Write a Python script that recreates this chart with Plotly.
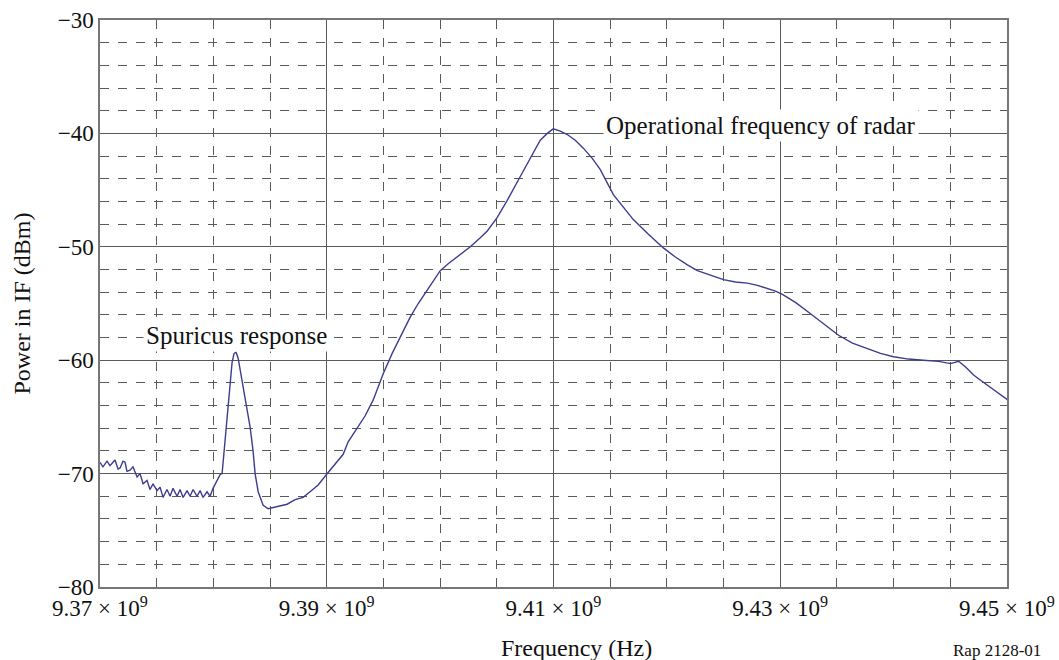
import plotly.graph_objects as go

freq_mhz = [
    9370.00, 9370.26, 9370.62, 9370.88, 9371.15, 9371.32, 9371.59, 9371.77, 9372.03, 9372.21,
    9372.38, 9372.65, 9372.91, 9373.27, 9373.53, 9373.80, 9374.15, 9374.41, 9374.68, 9375.03,
    9375.30, 9375.56, 9375.91, 9376.18, 9376.44, 9376.80, 9377.06, 9377.33, 9377.68, 9377.94,
    9378.21, 9378.56, 9378.83, 9379.09, 9379.44, 9379.71, 9379.97, 9380.33, 9380.59, 9380.77,
    9380.94, 9381.21, 9381.47, 9381.65, 9381.83, 9382.00, 9382.18, 9382.36, 9382.53, 9382.89,
    9383.24, 9383.50, 9383.68, 9383.95, 9384.39, 9384.83, 9385.27, 9385.89, 9386.50, 9387.21,
    9387.92, 9388.53, 9389.24, 9390.12, 9390.74, 9391.45, 9391.89, 9392.68, 9393.39, 9394.10,
    9394.98, 9395.77, 9396.65, 9397.36, 9398.07, 9398.86, 9400.01, 9400.71, 9401.51, 9402.66,
    9403.54, 9404.16, 9405.04, 9405.92, 9407.07, 9407.95, 9408.83, 9409.45, 9409.98, 9410.60,
    9411.22, 9411.92, 9412.63, 9413.42, 9414.13, 9415.28, 9416.16, 9417.04, 9418.37, 9419.69,
    9420.75, 9421.81, 9422.69, 9423.57, 9424.28, 9424.99, 9426.05, 9427.10, 9427.99, 9428.87,
    9429.58, 9430.19, 9431.34, 9432.67, 9433.99, 9435.14, 9436.37, 9437.70, 9438.84, 9439.99,
    9441.31, 9442.64, 9443.96, 9445.02, 9445.73, 9446.35, 9447.05, 9447.85, 9448.55, 9449.26,
    9450.05,
]
power_dbm = [
    -69.0, -69.4, -68.9, -69.3, -69.0, -68.8, -69.6, -69.5, -68.9, -69.0,
    -69.8, -69.7, -69.4, -70.3, -70.0, -70.9, -70.6, -71.4, -70.9, -71.5,
    -71.2, -72.1, -71.4, -72.0, -71.3, -72.0, -71.4, -72.1, -71.5, -72.0,
    -71.4, -72.0, -71.5, -72.1, -71.6, -72.0, -71.3, -70.6, -70.1, -70.0,
    -68.0, -65.3, -61.8, -60.2, -59.4, -59.3, -59.8, -60.8, -61.8, -64.0,
    -65.9, -68.0, -70.0, -71.6, -72.8, -73.1, -73.0, -72.8, -72.7, -72.3,
    -72.1, -71.6, -71.0, -69.9, -69.2, -68.3, -67.2, -66.0, -64.9, -63.5,
    -61.2, -59.4, -57.6, -56.2, -55.0, -53.8, -52.1, -51.5, -50.9, -50.0,
    -49.2, -48.6, -47.4, -45.9, -43.8, -42.2, -40.6, -40.0, -39.6, -39.8,
    -40.1, -40.6, -41.3, -42.2, -43.2, -45.4, -46.5, -47.6, -48.9, -50.1,
    -50.9, -51.6, -52.1, -52.4, -52.7, -52.9, -53.1, -53.2, -53.4, -53.7,
    -53.9, -54.2, -54.9, -55.9, -56.9, -57.8, -58.5, -59.0, -59.4, -59.7,
    -59.9, -60.0, -60.1, -60.3, -60.1, -60.6, -61.3, -61.9, -62.4, -62.9,
    -63.5,
]

x_tick_vals = [9.37e9, 9.39e9, 9.41e9, 9.43e9, 9.45e9]
x_tick_text = ["9.37 × 10<sup>9</sup>", "9.39 × 10<sup>9</sup>", "9.41 × 10<sup>9</sup>",
               "9.43 × 10<sup>9</sup>", "9.45 × 10<sup>9</sup>"]
y_tick_vals = [-80, -70, -60, -50, -40, -30]
y_tick_text = ["−80", "−70", "−60", "−50", "−40", "−30"]

freq_hz = [f * 1e6 for f in freq_mhz]

FONT = "Liberation Serif, Times New Roman, serif"
GRID = "#5a5a5a"

fig = go.Figure()
fig.add_trace(go.Scatter(x=freq_hz, y=power_dbm, mode="lines",
                         line=dict(color="#3d3d8f", width=1.4), showlegend=False))

fig.update_layout(
    width=1059, height=660,
    margin=dict(l=100, r=52, t=20, b=73),
    paper_bgcolor="white", plot_bgcolor="white",
    font=dict(family=FONT, size=23, color="#111"),
    xaxis=dict(
        range=[9.37e9, 9.45e9], tickmode="array", tickvals=x_tick_vals, ticktext=x_tick_text,
        showgrid=True, gridcolor=GRID, gridwidth=1.3,
        showline=True, linecolor="#777", linewidth=1.5, mirror=True,
        ticks="", zeroline=False, automargin=False,
        minor=dict(tick0=9.37e9, dtick=0.005e9, showgrid=True, gridcolor=GRID,
                   griddash="dash", gridwidth=1),
        tickfont=dict(size=23),
    ),
    yaxis=dict(
        range=[-80, -30], tickmode="array", tickvals=y_tick_vals, ticktext=y_tick_text,
        showgrid=True, gridcolor=GRID, gridwidth=1.3,
        showline=True, linecolor="#777", linewidth=1.5, mirror=True,
        ticks="", zeroline=False, automargin=False,
        minor=dict(tick0=-80, dtick=2, showgrid=True, gridcolor=GRID,
                   griddash="dash", gridwidth=1),
        tickfont=dict(size=23),
    ),
    annotations=[
        dict(x=-0.086, y=0.5, xref="paper", yref="paper", text="Power in IF (dBm)",
             textangle=-90, showarrow=False, xanchor="center", yanchor="middle",
             font=dict(size=24)),
        dict(x=0.525, y=-0.1076, xref="paper", yref="paper", text="Frequency (Hz)",
             showarrow=False, xanchor="center", yanchor="middle", font=dict(size=24)),
        dict(x=9.4283e9, y=-39.3, xref="x", yref="y", text="Operational frequency of radar",
             showarrow=False, bgcolor="white", font=dict(size=25), borderpad=2),
        dict(x=9.3820e9, y=-57.8, xref="x", yref="y", text="Spuricus response",
             showarrow=False, bgcolor="white", font=dict(size=25), borderpad=2),
        dict(x=1.0, y=0.0, xref="paper", yref="paper", xanchor="right", yanchor="middle",
             xshift=36, yshift=-63, text="Rap 2128-01", showarrow=False,
             font=dict(size=17)),
    ],
)

fig.write_html("out.html")
